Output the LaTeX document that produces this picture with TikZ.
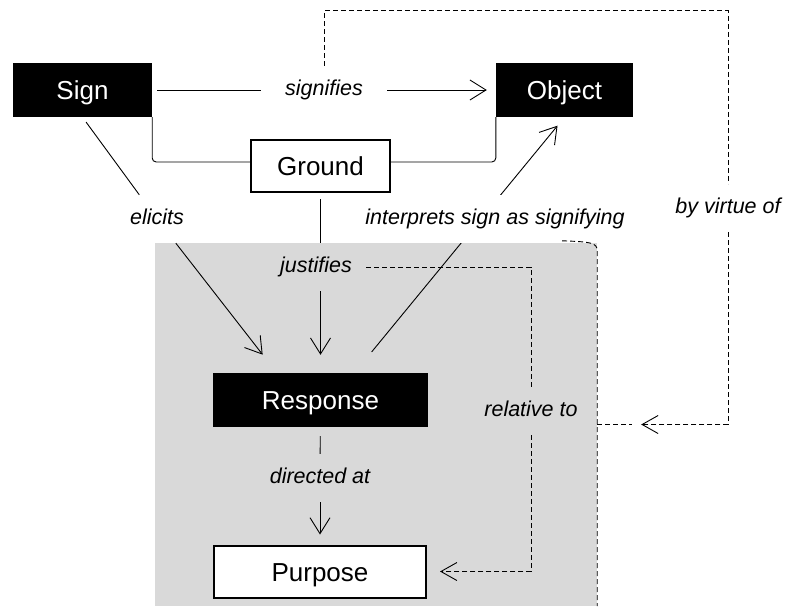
\documentclass[tikz,border=0pt]{standalone}
\usepackage{fontspec}
\setmainfont{Liberation Sans}
\usetikzlibrary{arrows.meta}
\definecolor{groupgray}{HTML}{D9D9D9}
\tikzset{
  term/.style={rectangle,fill=black,text=white,font=\fontsize{26}{30}\selectfont,
               minimum height=54pt,inner sep=0,text height=19pt,text depth=0pt},
  termw/.style={term,fill=white,text=black,draw=black,line width=2pt,minimum height=52pt},
  lab/.style={font=\fontsize{21.5}{25}\selectfont\itshape,inner xsep=24pt,inner ysep=14pt,
              text height=15.5pt,text depth=4.5pt},
  link/.style={line width=0.9pt},
  arrow/.style={link,-{Straight Barb[length=16pt,width=20pt]}},
  % dashed relations, tips stay solid
  dashlink/.style={link,dash pattern=on 5pt off 3pt},
  dasharrow/.style={dashlink,-{Straight Barb[length=16pt,width=18pt]}},
}

\begin{document}
\begin{tikzpicture}[x=1pt,y=-1pt]
  \useasboundingbox (0,0) rectangle (786,606);
  % the context in which the response happens
  \node[fill=groupgray,minimum width=442pt,minimum height=363pt,inner sep=0] (context) at (376,424.5) {};
  % the terms
  \node[term,minimum width=139pt] (sign) at (82.5,90) {Sign};
  \node[term,minimum width=137pt] (object) at (564.5,90) {Object};
  \node[termw,minimum width=139pt] (ground) at (320.5,166) {Ground};
  \node[term,minimum width=215pt] (response) at (320.5,400) {Response};
  \node[termw,minimum width=212pt] (purpose) at (320,571.5) {Purpose};
  % labels of the relations
  \node[lab] (signifies) at (324,90) {signifies};
  \node[lab] (elicits) at (157,219) {elicits};
  \node[lab,inner xsep=14pt] (justifies) at (316,267) {justifies};
  \node[lab] (directed) at (320,478) {directed at};
  \node[lab] (relto) at (531,411) {relative to};
  \node[lab] (virtue) at (728,208) {by virtue of};
  % sign and object share the ground
  \draw[link,rounded corners=4pt] (sign.south east) |- ([yshift=4pt]ground.west);
  \draw[link,rounded corners=4pt] ([yshift=4pt]ground.east) -| (object.south west);
  \draw[link,shorten <=5pt] (sign) -- (signifies);
  \draw[arrow,shorten >=9pt] (signifies) -- (object);
  \draw[link,shorten <=6pt] (sign.south) -- (elicits);
  \draw[arrow,shorten >=23pt] (elicits) -- ([xshift=64pt]response.north west);
  \draw[link,shorten <=6pt] (ground) -- (ground |- justifies.north);
  \draw[arrow,shorten >=18pt] (ground |- justifies.south) -- (response);
  \draw[arrow,shorten <=27pt,shorten >=11pt] ([xshift=34pt]response.north) -- (object.south);
  \node[lab,fill=white] (interprets) at (495,219) {interprets sign as signifying};
  \draw[link,shorten <=9pt] (response) -- (directed);
  \draw[arrow,shorten >=10pt] (directed) -- (purpose);
  % dashed relations
  \draw[dashlink] (justifies.east) -| (relto.north);
  \draw[dasharrow,shorten >=13pt] (relto.south) |- (purpose.east);
  \draw[dashlink] (signifies.north) -- ++(0,-55) -| (virtue.north);
  \draw[dasharrow,shorten >=44pt] (virtue.south) |- (context.east);
  \draw[dashlink] ([xshift=-35pt,yshift=2pt]context.north east)
    .. controls ([xshift=-6pt,yshift=1pt]context.north east) and (context.north east)
    .. ([yshift=-8pt]context.north east) -- (context.south east);
  \draw[dashlink] (context.east) -- ++(35,0);
\end{tikzpicture}
\end{document}
